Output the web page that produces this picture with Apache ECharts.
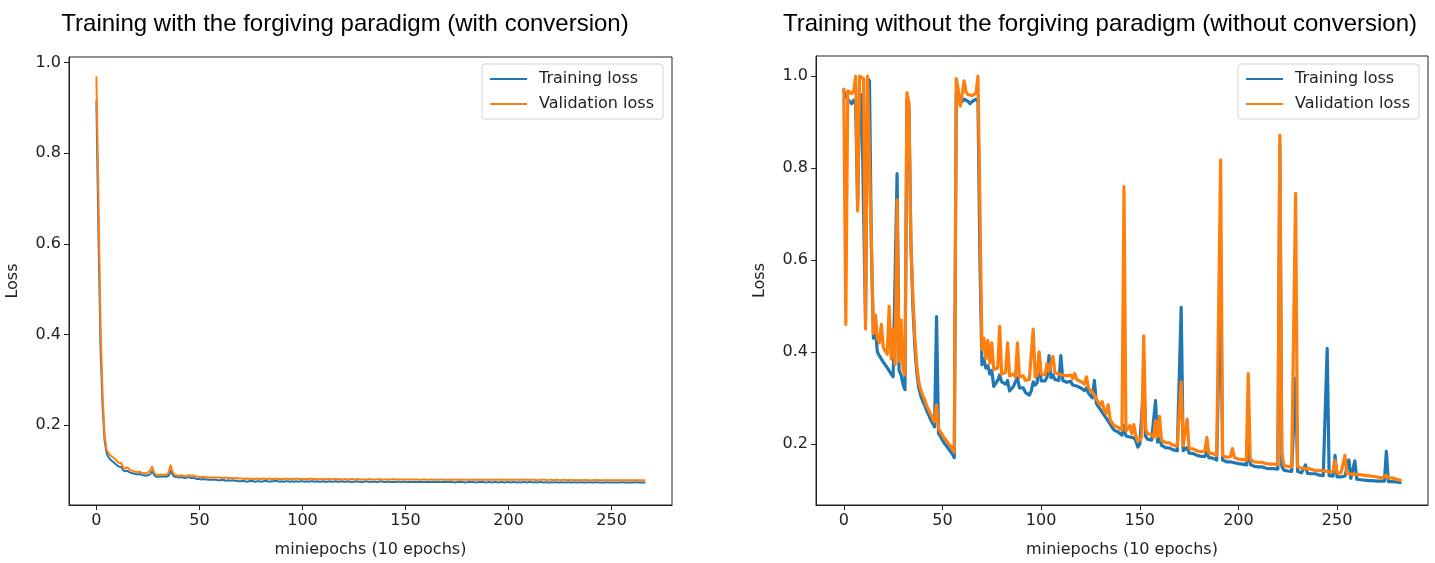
<!DOCTYPE html>
<html>
<head>
<meta charset="utf-8">
<title>Training loss curves</title>
<script src="https://cdn.jsdelivr.net/npm/echarts@6.0.0/dist/echarts.min.js"></script>
<style>
  html, body { margin: 0; padding: 0; background: #fff; }
  #chart { width: 1435px; height: 563px; }
</style>
</head>
<body>
<div id="chart"></div>
<script>
// values, one value per miniepoch (index = miniepoch)
const seriesNames = ['Training loss', 'Validation loss'];
const panelTitles = [
  'Training with the forgiving paradigm (with conversion)',
  'Training without the forgiving paradigm (without conversion)'
];
const xAxisName = 'miniepochs (10 epochs)';
const yAxisName = 'Loss';
const xTickValues = [0, 50, 100, 150, 200, 250];
const yTickValues = [0.2, 0.4, 0.6, 0.8, 1.0];

const leftTrainLoss = [
  0.915, 0.620, 0.370, 0.240, 0.165, 0.137, 0.128, 0.123, 0.119, 0.115,
  0.111, 0.108, 0.108, 0.100, 0.098, 0.099, 0.096, 0.094, 0.093, 0.092,
  0.091, 0.092, 0.090, 0.089, 0.088, 0.089, 0.091, 0.098, 0.090, 0.086,
  0.086, 0.087, 0.086, 0.087, 0.086, 0.088, 0.099, 0.090, 0.086, 0.085,
  0.084, 0.085, 0.084, 0.083, 0.084, 0.085, 0.083, 0.084, 0.082, 0.081,
  0.081, 0.080, 0.081, 0.080, 0.080, 0.079, 0.080, 0.079, 0.079, 0.078,
  0.078, 0.079, 0.078, 0.077, 0.078, 0.077, 0.078, 0.077, 0.077, 0.076,
  0.076, 0.077, 0.076, 0.075, 0.076, 0.077, 0.076, 0.075, 0.076, 0.076,
  0.075, 0.076, 0.077, 0.076, 0.075, 0.076, 0.076, 0.077, 0.076, 0.075,
  0.076, 0.075, 0.076, 0.076, 0.075, 0.076, 0.075, 0.076, 0.075, 0.076,
  0.076, 0.075, 0.076, 0.075, 0.076, 0.076, 0.075, 0.076, 0.075, 0.075,
  0.076, 0.075, 0.075, 0.076, 0.075, 0.075, 0.076, 0.075, 0.075, 0.076,
  0.075, 0.075, 0.076, 0.075, 0.074, 0.075, 0.076, 0.075, 0.075, 0.074,
  0.075, 0.076, 0.075, 0.074, 0.075, 0.075, 0.074, 0.075, 0.076, 0.075,
  0.074, 0.075, 0.075, 0.074, 0.075, 0.074, 0.075, 0.075, 0.074, 0.075,
  0.075, 0.074, 0.075, 0.074, 0.074, 0.075, 0.074, 0.075, 0.074, 0.074,
  0.075, 0.074, 0.074, 0.075, 0.074, 0.074, 0.075, 0.074, 0.074, 0.075,
  0.074, 0.074, 0.075, 0.074, 0.073, 0.074, 0.075, 0.074, 0.074, 0.073,
  0.074, 0.075, 0.074, 0.074, 0.073, 0.074, 0.074, 0.075, 0.074, 0.073,
  0.074, 0.074, 0.073, 0.074, 0.074, 0.073, 0.074, 0.074, 0.073, 0.074,
  0.074, 0.073, 0.074, 0.074, 0.073, 0.074, 0.073, 0.074, 0.074, 0.073,
  0.075, 0.074, 0.073, 0.074, 0.073, 0.074, 0.074, 0.073, 0.074, 0.073,
  0.073, 0.074, 0.073, 0.074, 0.073, 0.073, 0.074, 0.073, 0.073, 0.074,
  0.073, 0.073, 0.074, 0.073, 0.073, 0.074, 0.073, 0.073, 0.073, 0.074,
  0.073, 0.073, 0.073, 0.074, 0.073, 0.073, 0.073, 0.073, 0.074, 0.073,
  0.073, 0.073, 0.073, 0.073, 0.073, 0.074, 0.073, 0.073, 0.073, 0.073,
  0.073, 0.073, 0.074, 0.073, 0.073, 0.073, 0.073
];

const leftValLoss = [
  0.968, 0.700, 0.420, 0.265, 0.175, 0.145, 0.137, 0.132, 0.129, 0.125,
  0.120, 0.116, 0.117, 0.106, 0.104, 0.107, 0.102, 0.100, 0.098, 0.097,
  0.096, 0.097, 0.095, 0.094, 0.093, 0.095, 0.099, 0.108, 0.095, 0.090,
  0.090, 0.091, 0.090, 0.091, 0.090, 0.095, 0.111, 0.096, 0.090, 0.089,
  0.088, 0.089, 0.088, 0.087, 0.088, 0.089, 0.088, 0.089, 0.087, 0.086,
  0.086, 0.085, 0.086, 0.085, 0.085, 0.084, 0.085, 0.084, 0.084, 0.084,
  0.084, 0.083, 0.083, 0.084, 0.083, 0.083, 0.083, 0.082, 0.083, 0.082,
  0.082, 0.082, 0.081, 0.082, 0.081, 0.082, 0.081, 0.081, 0.082, 0.081,
  0.081, 0.082, 0.081, 0.081, 0.082, 0.081, 0.081, 0.082, 0.081, 0.081,
  0.081, 0.081, 0.082, 0.081, 0.081, 0.081, 0.081, 0.082, 0.081, 0.081,
  0.081, 0.081, 0.081, 0.081, 0.082, 0.081, 0.081, 0.081, 0.080, 0.081,
  0.081, 0.080, 0.081, 0.081, 0.080, 0.081, 0.081, 0.080, 0.081, 0.080,
  0.080, 0.081, 0.080, 0.080, 0.081, 0.080, 0.080, 0.081, 0.080, 0.080,
  0.080, 0.080, 0.081, 0.080, 0.080, 0.080, 0.080, 0.081, 0.080, 0.080,
  0.080, 0.080, 0.080, 0.080, 0.081, 0.080, 0.080, 0.080, 0.080, 0.080,
  0.080, 0.080, 0.080, 0.080, 0.080, 0.080, 0.080, 0.079, 0.080, 0.080,
  0.080, 0.079, 0.080, 0.080, 0.079, 0.080, 0.079, 0.080, 0.080, 0.079,
  0.079, 0.080, 0.079, 0.079, 0.080, 0.079, 0.079, 0.079, 0.080, 0.079,
  0.079, 0.079, 0.079, 0.080, 0.079, 0.079, 0.079, 0.079, 0.079, 0.079,
  0.079, 0.079, 0.079, 0.079, 0.079, 0.079, 0.080, 0.079, 0.079, 0.079,
  0.079, 0.079, 0.079, 0.079, 0.079, 0.079, 0.079, 0.079, 0.079, 0.080,
  0.079, 0.079, 0.079, 0.079, 0.078, 0.079, 0.079, 0.079, 0.079, 0.078,
  0.079, 0.079, 0.078, 0.079, 0.079, 0.078, 0.079, 0.079, 0.078, 0.079,
  0.078, 0.079, 0.078, 0.078, 0.079, 0.078, 0.078, 0.079, 0.078, 0.078,
  0.078, 0.078, 0.079, 0.078, 0.078, 0.078, 0.078, 0.078, 0.079, 0.078,
  0.078, 0.078, 0.078, 0.078, 0.078, 0.078, 0.078, 0.078, 0.078, 0.078,
  0.078, 0.078, 0.078, 0.078, 0.078, 0.078, 0.078
];

const rightTrainLoss = [
  0.968, 0.955, 0.950, 0.945, 0.940, 0.948, 0.940, 0.720, 0.950, 0.960,
  0.960, 0.470, 0.995, 0.990, 0.620, 0.430, 0.450, 0.400, 0.392, 0.385,
  0.378, 0.372, 0.366, 0.362, 0.352, 0.346, 0.348, 0.788, 0.360, 0.350,
  0.330, 0.318, 0.950, 0.930, 0.640, 0.500, 0.410, 0.355, 0.322, 0.305,
  0.293, 0.284, 0.272, 0.263, 0.253, 0.245, 0.237, 0.477, 0.223, 0.216,
  0.208, 0.201, 0.196, 0.190, 0.184, 0.178, 0.170, 0.965, 0.955, 0.950,
  0.945, 0.950, 0.948, 0.945, 0.940, 0.945, 0.947, 0.950, 0.945, 0.600,
  0.372, 0.385, 0.365, 0.370, 0.352, 0.360, 0.325, 0.328, 0.338, 0.350,
  0.335, 0.332, 0.330, 0.338, 0.315, 0.318, 0.325, 0.322, 0.345, 0.322,
  0.318, 0.322, 0.312, 0.310, 0.306, 0.315, 0.335, 0.328, 0.333, 0.396,
  0.337, 0.340, 0.337, 0.345, 0.392, 0.344, 0.350, 0.340, 0.343, 0.338,
  0.392, 0.338, 0.340, 0.334, 0.332, 0.336, 0.328, 0.332, 0.326, 0.324,
  0.322, 0.318, 0.316, 0.322, 0.310, 0.306, 0.300, 0.338, 0.288, 0.281,
  0.275, 0.272, 0.262, 0.256, 0.258, 0.243, 0.236, 0.230, 0.228, 0.226,
  0.222, 0.219, 0.240, 0.217, 0.214, 0.215, 0.211, 0.213, 0.207, 0.193,
  0.199, 0.203, 0.330, 0.216, 0.210, 0.207, 0.208, 0.204, 0.294, 0.204,
  0.213, 0.197, 0.194, 0.192, 0.189, 0.191, 0.188, 0.187, 0.188, 0.185,
  0.184, 0.497, 0.185, 0.182, 0.192, 0.180, 0.178, 0.179, 0.176, 0.175,
  0.176, 0.173, 0.172, 0.173, 0.182, 0.170, 0.168, 0.169, 0.166, 0.165,
  0.166, 0.564, 0.165, 0.162, 0.161, 0.160, 0.161, 0.164, 0.159, 0.158,
  0.157, 0.158, 0.156, 0.155, 0.154, 0.200, 0.155, 0.152, 0.151, 0.152,
  0.150, 0.149, 0.150, 0.148, 0.147, 0.148, 0.146, 0.145, 0.146, 0.144,
  0.145, 0.849, 0.152, 0.143, 0.142, 0.141, 0.142, 0.140, 0.139, 0.343,
  0.140, 0.138, 0.137, 0.138, 0.154, 0.136, 0.137, 0.135, 0.134, 0.135,
  0.133, 0.132, 0.133, 0.131, 0.132, 0.408, 0.131, 0.129, 0.130, 0.175,
  0.128, 0.127, 0.128, 0.126, 0.130, 0.127, 0.165, 0.125, 0.124, 0.163,
  0.123, 0.124, 0.122, 0.123, 0.121, 0.122, 0.120, 0.121, 0.120, 0.121,
  0.119, 0.120, 0.119, 0.118, 0.119, 0.184, 0.118, 0.117, 0.118, 0.116,
  0.117, 0.115, 0.116
];

const rightValLoss = [
  0.972, 0.460, 0.968, 0.965, 0.962, 0.968, 1.000, 0.707, 1.000, 1.000,
  0.995, 0.450, 1.000, 1.000, 0.634, 0.440, 0.480, 0.430, 0.420, 0.460,
  0.410, 0.402, 0.395, 0.500, 0.385, 0.450, 0.372, 0.731, 0.380, 0.470,
  0.362, 0.350, 0.964, 0.942, 0.630, 0.520, 0.430, 0.370, 0.335, 0.318,
  0.305, 0.296, 0.283, 0.274, 0.265, 0.256, 0.248, 0.285, 0.234, 0.226,
  0.219, 0.212, 0.207, 0.201, 0.196, 0.190, 0.182, 0.995, 0.970, 0.935,
  0.962, 0.990, 0.965, 0.960, 0.962, 0.958, 0.960, 0.963, 1.000, 0.710,
  0.405, 0.430, 0.385, 0.425, 0.375, 0.420, 0.362, 0.358, 0.365, 0.456,
  0.352, 0.350, 0.356, 0.420, 0.348, 0.345, 0.352, 0.346, 0.420, 0.345,
  0.342, 0.348, 0.338, 0.336, 0.340, 0.338, 0.450, 0.345, 0.350, 0.400,
  0.352, 0.356, 0.350, 0.375, 0.358, 0.360, 0.390, 0.355, 0.358, 0.352,
  0.356, 0.350, 0.352, 0.348, 0.345, 0.350, 0.342, 0.353, 0.340, 0.338,
  0.336, 0.332, 0.330, 0.346, 0.322, 0.318, 0.312, 0.306, 0.298, 0.290,
  0.284, 0.292, 0.272, 0.266, 0.285, 0.252, 0.246, 0.240, 0.238, 0.236,
  0.233, 0.230, 0.760, 0.228, 0.225, 0.240, 0.222, 0.242, 0.218, 0.205,
  0.210, 0.215, 0.435, 0.232, 0.222, 0.218, 0.220, 0.214, 0.250, 0.215,
  0.260, 0.208, 0.205, 0.203, 0.200, 0.202, 0.198, 0.197, 0.199, 0.195,
  0.194, 0.335, 0.196, 0.192, 0.254, 0.190, 0.188, 0.189, 0.186, 0.185,
  0.186, 0.183, 0.182, 0.184, 0.214, 0.180, 0.178, 0.179, 0.176, 0.175,
  0.176, 0.818, 0.175, 0.172, 0.171, 0.170, 0.172, 0.190, 0.170, 0.168,
  0.167, 0.168, 0.166, 0.165, 0.164, 0.353, 0.166, 0.162, 0.161, 0.162,
  0.160, 0.159, 0.160, 0.158, 0.157, 0.158, 0.156, 0.155, 0.156, 0.154,
  0.155, 0.872, 0.180, 0.153, 0.152, 0.151, 0.152, 0.150, 0.149, 0.745,
  0.150, 0.148, 0.147, 0.148, 0.146, 0.145, 0.146, 0.144, 0.143, 0.144,
  0.142, 0.141, 0.142, 0.140, 0.141, 0.140, 0.139, 0.138, 0.139, 0.164,
  0.137, 0.136, 0.137, 0.135, 0.175, 0.135, 0.136, 0.134, 0.133, 0.134,
  0.132, 0.133, 0.131, 0.132, 0.130, 0.131, 0.129, 0.130, 0.128, 0.129,
  0.128, 0.127, 0.128, 0.126, 0.127, 0.132, 0.126, 0.125, 0.126, 0.124,
  0.123, 0.122, 0.121
];

const BLUE = '#1f77b4';
const ORANGE = '#ff7f0e';
const INK = '#222';
const tickFont = 'DejaVu Sans';
const titleFont = 'Liberation Sans, Arial, sans-serif';

const toPairs = (arr) => arr.map((v, i) => [i, v]);

function xAxisFor(gridIndex, min, max, nameGap) {
  return {
    type: 'value', gridIndex, min, max,
    name: xAxisName, nameLocation: 'middle', nameGap,
    nameTextStyle: { fontFamily: tickFont, fontSize: 16, color: INK },
    axisLine: { show: true, onZero: false, lineStyle: { color: INK, width: 1 } },
    axisTick: { show: true, length: 5, customValues: xTickValues, lineStyle: { color: INK } },
    axisLabel: { customValues: xTickValues, margin: 8, fontFamily: tickFont, fontSize: 16, color: INK },
    splitLine: { show: false }
  };
}

function yAxisFor(gridIndex, min, max) {
  return {
    type: 'value', gridIndex, min, max,
    name: yAxisName, nameLocation: 'middle', nameGap: 48, nameRotate: 90,
    nameTextStyle: { fontFamily: tickFont, fontSize: 16, color: INK },
    axisLine: { show: true, onZero: false, lineStyle: { color: INK, width: 1 } },
    axisTick: { show: true, length: 5, customValues: yTickValues, lineStyle: { color: INK } },
    axisLabel: {
      customValues: yTickValues, margin: 8, fontFamily: tickFont, fontSize: 16, color: INK,
      formatter: (v) => v.toFixed(1)
    },
    splitLine: { show: false }
  };
}

function legendFor(right) {
  return {
    orient: 'vertical', right, top: 64,
    data: seriesNames,
    icon: 'rect', itemWidth: 37, itemHeight: 2, itemGap: 7,
    padding: [6, 9, 6, 8],
    backgroundColor: 'rgba(255,255,255,0.85)',
    borderColor: '#d4d4d4', borderWidth: 1, borderRadius: 3,
    textStyle: { fontFamily: tickFont, fontSize: 16, color: INK, lineHeight: 18, padding: [0, 0, 0, 7] }
  };
}

function lineSeries(name, data, color, axisIndex, width) {
  return {
    name, type: 'line', data: toPairs(data),
    xAxisIndex: axisIndex, yAxisIndex: axisIndex,
    showSymbol: false, symbol: 'none',
    lineStyle: { color, width, join: 'round', cap: 'round' },
    itemStyle: { color },
    emphasis: { disabled: true }
  };
}

const chart = echarts.init(document.getElementById('chart'), null, { renderer: 'canvas' });
chart.setOption({
  animation: false,
  backgroundColor: '#fff',
  title: [
    { text: panelTitles[0], left: 340, top: 7, textAlign: 'center',
      textStyle: { fontFamily: titleFont, fontSize: 24, fontWeight: 'normal', color: '#000' } },
    { text: panelTitles[1], left: 1095, top: 7, textAlign: 'center',
      textStyle: { fontFamily: titleFont, fontSize: 24, fontWeight: 'normal', color: '#000' } }
  ],
  legend: [legendFor(772), legendFor(16)],
  grid: [
    { left: 69, top: 57, width: 603, height: 449, show: true, borderColor: INK, borderWidth: 1 },
    { left: 816, top: 56, width: 612, height: 456, show: true, borderColor: INK, borderWidth: 1 }
  ],
  xAxis: [xAxisFor(0, -13.3, 279.3, 37), xAxisFor(1, -14.1, 296.1, 37)],
  yAxis: [yAxisFor(0, 0.0235, 1.0125), yAxisFor(1, 0.067, 1.044)],
  series: [
    lineSeries(seriesNames[0], leftTrainLoss, BLUE, 0, 2),
    lineSeries(seriesNames[1], leftValLoss, ORANGE, 0, 2),
    lineSeries(seriesNames[0], rightTrainLoss, BLUE, 1, 3.2),
    lineSeries(seriesNames[1], rightValLoss, ORANGE, 1, 3.2)
  ]
});
</script>
</body>
</html>
